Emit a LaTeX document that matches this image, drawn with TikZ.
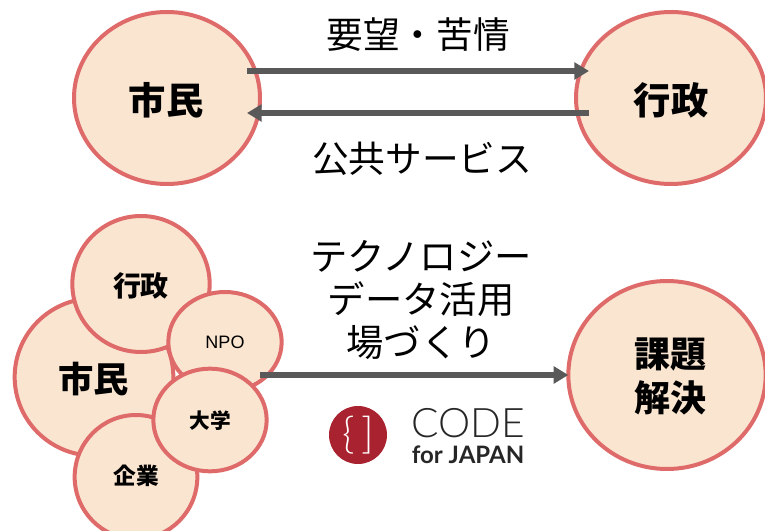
\documentclass[tikz,border=0pt]{standalone}
\usepackage{fontspec}
\setmainfont{Noto Sans CJK JP}
\newfontfamily\latinf{Liberation Sans}
\newfontfamily\logof{Lato}
\newfontfamily\logolight{Lato Light}
\usetikzlibrary{shapes.geometric,arrows.meta}
\definecolor{ringc}{HTML}{DF6A6A}
\definecolor{fillc}{HTML}{FAE5D0}
\definecolor{arrc}{HTML}{595959}
\definecolor{logoc}{HTML}{A9222F}
\newcommand\ctext[2]{\raisebox{\dimexpr-0.38em-#1\relax}[0pt][0pt]{#2}}
\tikzset{
  blob/.style={ellipse,draw=ringc,fill=fillc,line width=3pt,inner sep=0pt,outer sep=0pt,align=center,text=black},
  big/.style={font=\fontsize{28}{32}\selectfont\bfseries},
  flow/.style={draw=arrc,line width=4.5pt,-{Triangle[length=11pt,width=12.5pt]},shorten >=0pt},
  capt/.style={font=\fontsize{27.5}{32}\selectfont,text=black,align=center,inner sep=0pt},
}
\begin{document}
\begin{tikzpicture}[x=0.75pt,y=-0.75pt]
\useasboundingbox (0,0) rectangle (765,531);
\clip (0,0) rectangle (765,531);
\node[blob,big,minimum width=139.5pt,minimum height=129pt] (citizenA) at (167,98) {\ctext{1.5pt}{\hspace{-1.5pt}市民}};
\node[blob,big,minimum width=142.5pt,minimum height=129pt] (govA) at (671,98) {\ctext{1.5pt}{行政}};
\coordinate (a1) at (247,71);
\coordinate (a2) at (589,71);
\coordinate (b1) at (589,113);
\coordinate (b2) at (247,113);
\draw[flow] (a1) -- (a2);
\draw[flow] (b1) -- (b2);
\node[capt] (demand) at (418,35) {要望・苦情};
\node[capt] (service) at (422,159) {公共サービス};

\node[blob,font=\fontsize{26.5}{32}\selectfont\bfseries,minimum width=119pt,minimum height=118pt] (citizenB) at (94,377) {\ctext{1.5pt}{市民}};
\node[blob,font=\fontsize{17}{20}\selectfont\bfseries,minimum width=92pt,minimum height=93pt] (corp) at (136,477) {\ctext{-0.75pt}{企業}};
\node[blob,font=\fontsize{21}{25}\selectfont\bfseries,minimum width=103pt,minimum height=102pt] (govB) at (141,284) {\ctext{1.5pt}{行政}};
\node[blob,minimum width=85pt,minimum height=75pt,font=\latinf\fontsize{13.5}{16}\selectfont] (npo) at (225,342) {NPO};
\coordinate (c1) at (260,375);
\node[blob,font=\fontsize{15.5}{19}\selectfont\bfseries,minimum width=85pt,minimum height=77pt] (univ) at (210,420) {\ctext{0.75pt}{大学}};
\node[blob,font=\fontsize{27}{33}\selectfont\bfseries,minimum width=148pt,minimum height=141pt] (solve) at (667,375) {\hspace{5pt}\ctext{0.75pt}{課題}\\\hspace{5pt}\ctext{0.75pt}{解決}};
\draw[flow] (c1) -- (solve.west);
\node[capt,font=\fontsize{28}{32.25}\selectfont] (tech) at (421,300) {テクノロジー\\データ活用\\場づくり};

\node[circle,fill=logoc,minimum size=43.5pt,inner sep=0pt,text=white,font=\logolight\fontsize{32}{34}\selectfont] (logo) at (358,435) {\raisebox{1pt}{\{\hspace{5pt}]}};
\node[inner sep=0pt,text=black!85,font=\logolight\fontsize{30.5}{34}\selectfont] (code) at (468,423) {CODE};
\node[inner sep=0pt,text=black!85,font=\logof\bfseries\fontsize{18}{20}\selectfont] (forjapan) at (468,455) {for JAPAN};
\end{tikzpicture}
\end{document}
